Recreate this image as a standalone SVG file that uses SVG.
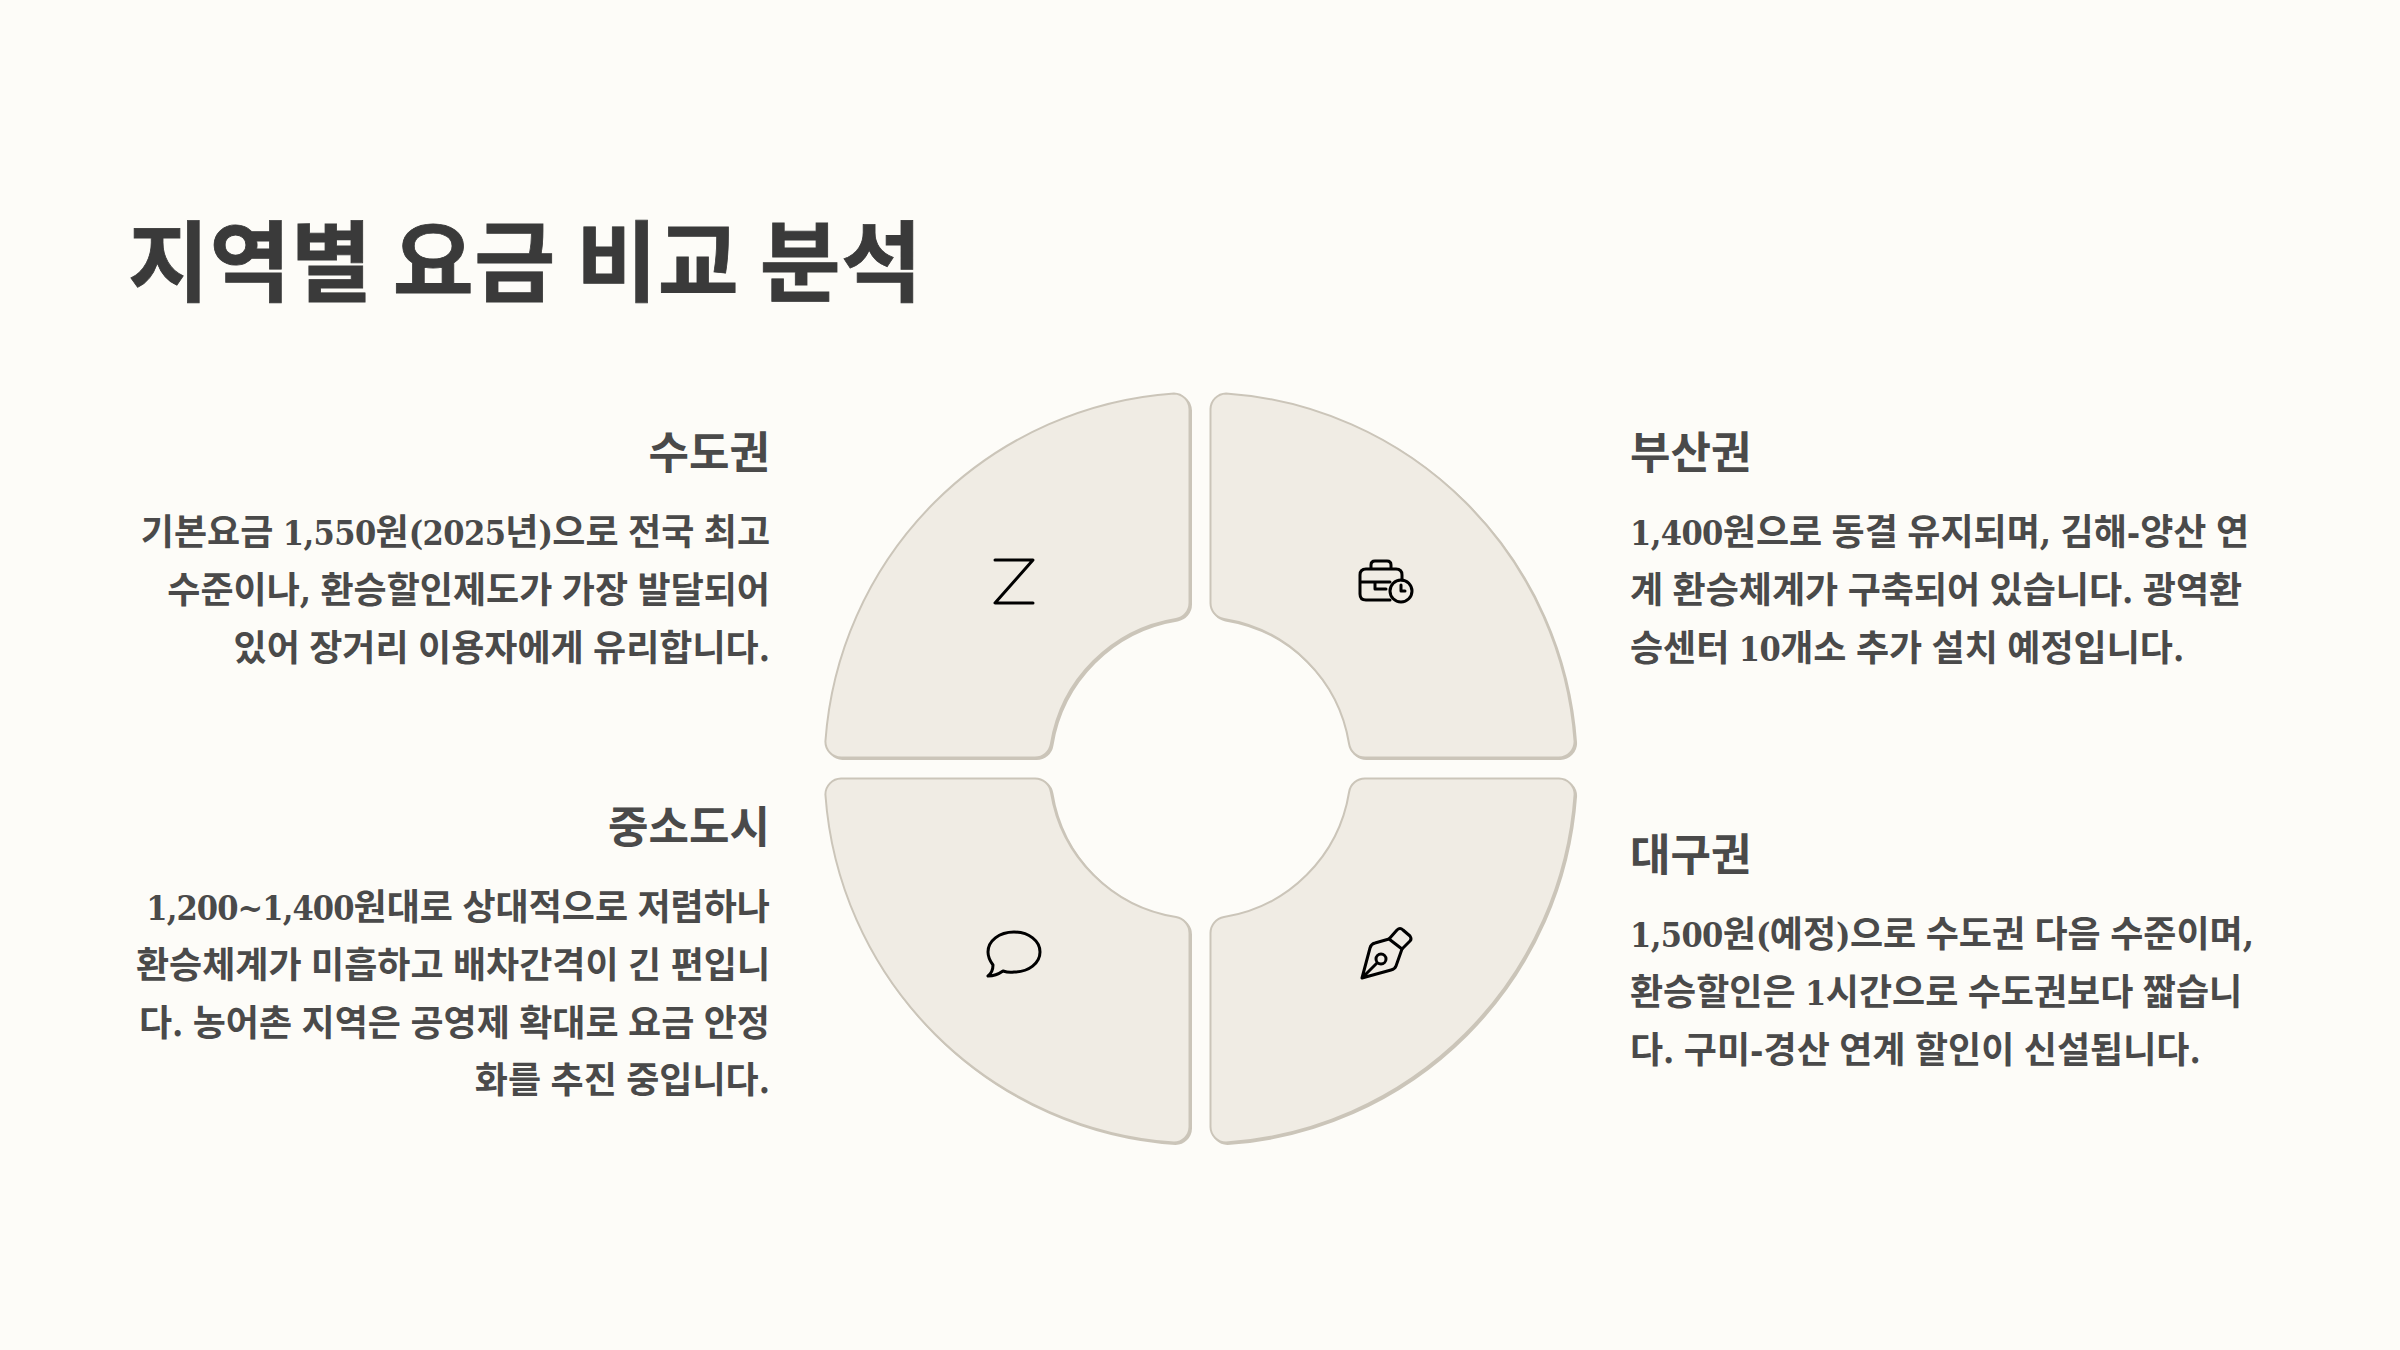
<svg xmlns="http://www.w3.org/2000/svg" width="2400" height="1350" viewBox="0 0 2400 1350">
<style>
.title{font-family:"Noto Sans CJK KR",sans-serif;font-weight:700;font-size:88px;letter-spacing:.5px;fill:#3a3a3a;stroke:#3a3a3a;stroke-width:.8px}
.h{font-family:"Noto Sans CJK KR",sans-serif;font-weight:700;font-size:44px;fill:#4a4a4a}
.b{font-family:"DejaVu Serif Condensed","DejaVu Serif","Noto Sans CJK KR",serif;font-stretch:condensed;font-weight:700;font-size:36px;word-spacing:-1.8px;fill:#4a4a4a}
.n{font-size:34px;letter-spacing:-.6px}
.m{font-size:34px;letter-spacing:-.9px}
.end{text-anchor:end}
.seg{fill:#f0ece4;stroke:#cbc5b9;stroke-width:2}
.sh{fill:#cbc5b9;stroke:#cbc5b9;stroke-width:2}
.ic{fill:none;stroke:#000;stroke-width:3;stroke-linecap:round;stroke-linejoin:round}
</style>
<defs>
<path id="q" d="M825.4 741.5A375.5 375.5 0 0 1 1174 393.4A16 16 0 0 1 1189.5 409V603A16 16 0 0 1 1176 618.9A151 151 0 0 0 1050.9 744A16 16 0 0 1 1035 757.5H841A16 16 0 0 1 825.4 741.5Z"/>
</defs>
<rect width="2400" height="1350" fill="#fdfcf8"/>
<text class="title" x="128" y="294">지역별 요금 비교 분석</text>
<g id="node-tl">
<use href="#q" class="sh" transform="translate(1.5,1.5)"/>
<use href="#q" class="seg"/>
<path class="ic" d="M995 560H1033L995 603H1033"/>
<text class="h end" x="770" y="469">수도권</text>
<text class="b end" x="770" y="545">기본요금 <tspan class="n">1,550</tspan>원<tspan class="n">(2025</tspan>년<tspan class="n">)</tspan>으로 전국 최고</text>
<text class="b end" x="770" y="603">수준이나, 환승할인제도가 가장 발달되어</text>
<text class="b end" x="770" y="661">있어 장거리 이용자에게 유리합니다.</text>
</g>
<g id="node-tr">
<use href="#q" class="sh" transform="translate(2401.5,1.5) scale(-1,1)"/>
<use href="#q" class="seg" transform="translate(2400,0) scale(-1,1)"/>
<path class="ic" d="M1390 600H1366Q1360 600 1360 594V575Q1360 569 1366 569H1396Q1402 569 1402 575V580M1360 582H1375V589H1386M1375 582H1390M1371 569V565Q1371 561 1375 561H1387Q1391 561 1391 565V569"/>
<circle class="ic" cx="1401" cy="591" r="11"/>
<path class="ic" d="M1401 585V591H1405"/>
<text class="h" x="1630" y="469">부산권</text>
<text class="b" x="1630" y="545"><tspan class="n">1,400</tspan>원으로 동결 유지되며, 김해-양산 연</text>
<text class="b" x="1630" y="603">계 환승체계가 구축되어 있습니다. 광역환</text>
<text class="b" x="1630" y="661">승센터 <tspan class="n">10</tspan>개소 추가 설치 예정입니다.</text>
</g>
<g id="node-bl">
<use href="#q" class="sh" transform="translate(1.5,1537.5) scale(1,-1)"/>
<use href="#q" class="seg" transform="translate(0,1536) scale(1,-1)"/>
<path class="ic" d="M1003 971Q1009 973 1014 972C1029 972 1040 963 1040 952C1040 941 1029 932 1014 932C999 932 988 941 988 952C988 957 990 961 993 965Q993 972 988 976Q996 976 1003 971Z"/>
<text class="h end" x="770" y="843">중소도시</text>
<text class="b end" x="770" y="920"><tspan class="m">1,200~1,400</tspan>원대로 상대적으로 저렴하나</text>
<text class="b end" x="770" y="978">환승체계가 미흡하고 배차간격이 긴 편입니</text>
<text class="b end" x="770" y="1035.5">다. 농어촌 지역은 공영제 확대로 요금 안정</text>
<text class="b end" x="770" y="1093">화를 추진 중입니다.</text>
</g>
<g id="node-br">
<use href="#q" class="sh" transform="translate(2401.5,1537.5) scale(-1,-1)"/>
<use href="#q" class="seg" transform="translate(2400,1536) scale(-1,-1)"/>
<path class="ic" d="M1362 978L1370 948Q1371 944 1375 943L1389 939L1402 949L1396 966Q1395 969 1391 970ZM1362 978L1377 963"/>
<circle class="ic" cx="1381" cy="959" r="5"/>
<path class="ic" d="M1389 939L1397 930Q1400 927 1403 930L1410 936Q1412 939 1410 941L1402 949"/>
<text class="h" x="1630" y="871">대구권</text>
<text class="b" x="1630" y="946.5"><tspan class="n">1,500</tspan>원<tspan class="n">(</tspan>예정<tspan class="n">)</tspan>으로 수도권 다음 수준이며,</text>
<text class="b" x="1630" y="1004.5">환승할인은 <tspan class="n">1</tspan>시간으로 수도권보다 짧습니</text>
<text class="b" x="1630" y="1063">다. 구미-경산 연계 할인이 신설됩니다.</text>
</g>
<g id="connectors"></g>
</svg>
